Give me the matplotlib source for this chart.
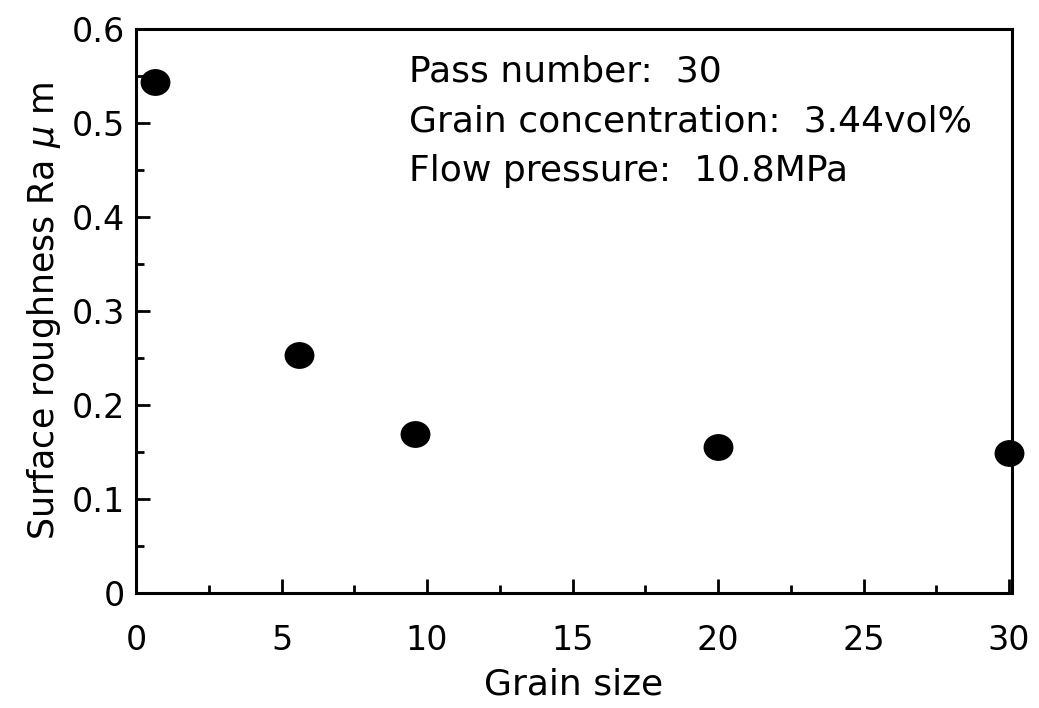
import numpy as np
import matplotlib.pyplot as plt
from matplotlib.path import Path
from matplotlib.ticker import MultipleLocator

plt.rcParams['font.family'] = ['DejaVu Sans']
plt.rcParams['mathtext.fontset'] = 'dejavusans'

# Data
grain_size = [0.65, 5.6, 9.6, 20.0, 30.0]
roughness = [0.544, 0.253, 0.169, 0.156, 0.149]

conditions = [
    "Pass number:  30",
    "Grain concentration:  3.44vol%",
    "Flow pressure:  10.8MPa",
]

# slightly flattened dot, like the scanned original
circ = Path.unit_circle()
oval = Path(circ.vertices * np.array([1.12, 1.0]), circ.codes)

fig = plt.figure(figsize=(10.39, 7.08), dpi=100)
ax = fig.add_axes([0.131, 0.162, 0.843, 0.797])

ax.plot(grain_size, roughness, linestyle='none', marker=oval, color='black',
        markersize=20.5, clip_on=False, zorder=3)

ax.set_xlim(0, 30.1)
ax.set_ylim(0, 0.6)
ax.xaxis.set_minor_locator(MultipleLocator(2.5))
ax.yaxis.set_minor_locator(MultipleLocator(0.05))
ax.set_xticks([0, 5, 10, 15, 20, 25, 30])
ax.set_xticklabels(['0', '5', '10', '15', '20', '25', '30'])
ax.set_yticks([0, 0.1, 0.2, 0.3, 0.4, 0.5, 0.6])
ax.set_yticklabels(['0', '0.1', '0.2', '0.3', '0.4', '0.5', '0.6'])

ax.tick_params(which='both', direction='in', width=2, top=False, right=False)
ax.tick_params(which='major', length=10, labelsize=24)
ax.tick_params(axis='y', which='major', pad=8)
ax.tick_params(axis='x', which='major', pad=22)
ax.tick_params(which='minor', length=6)
for s in ax.spines.values():
    s.set_linewidth(2.2)

ax.set_xlabel('Grain size', fontsize=26, labelpad=8)
ax.set_ylabel(r'Surface roughness Ra $\mu$ m', fontsize=25, labelpad=6)

for i, line in enumerate(conditions):
    ax.text(0.311, 0.925 - i * 0.088, line, transform=ax.transAxes,
            fontsize=26, va='center', ha='left')

fig.savefig('out.png', dpi=100)
